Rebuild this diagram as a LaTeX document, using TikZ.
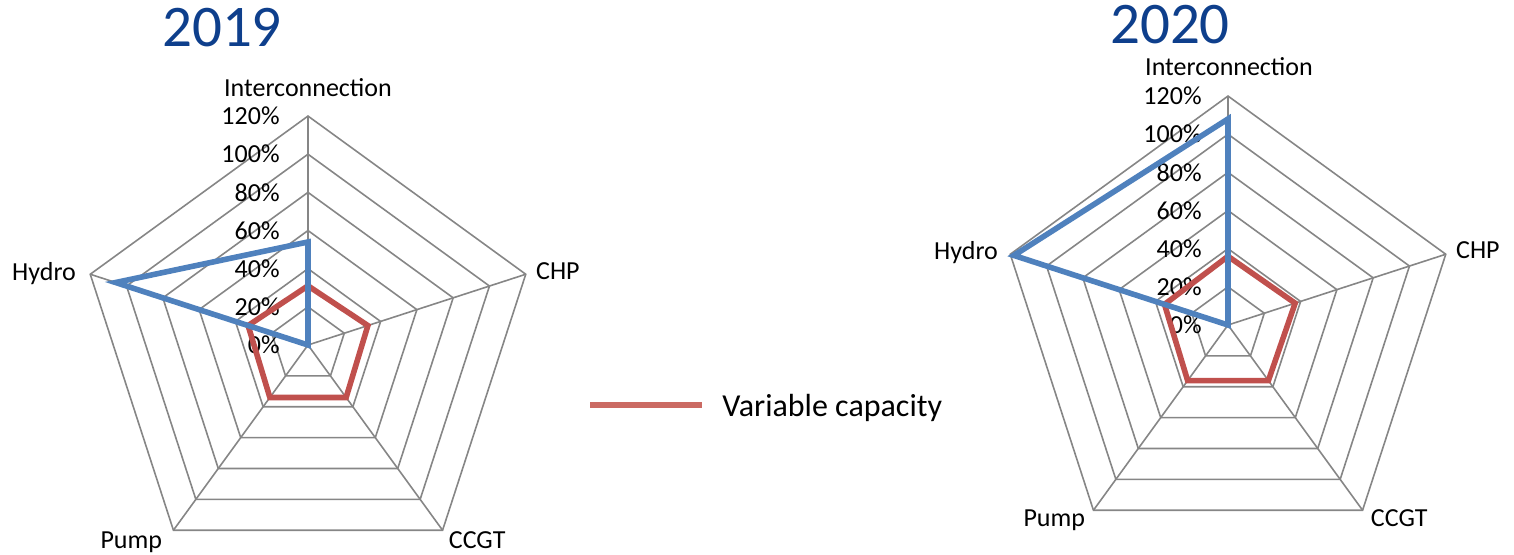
\documentclass[tikz,border=0pt]{standalone}
\usepackage{fontspec}
\setmainfont{Carlito}
\usetikzlibrary{calc}

\definecolor{gridgrey}{HTML}{868686}
\definecolor{seriesblue}{HTML}{4F81BD}
\definecolor{seriesred}{HTML}{C0504D}
\definecolor{legendred}{HTML}{CB6A63}
\definecolor{titleblue}{HTML}{0E3F8C}

\tikzset{
  web/.style={draw=gridgrey, line width=0.8pt},
  blueline/.style={draw=seriesblue, line width=2.8pt},
  redline/.style={draw=seriesred, line width=2.8pt},
  ticklabel/.style={inner sep=0pt, anchor=east, font=\fontsize{13}{15}\selectfont},
  catlabel/.style={inner sep=0pt, font=\fontsize{13}{15}\selectfont},
  yearlabel/.style={inner sep=0pt, anchor=base, text=titleblue, font=\fontsize{29.5}{33}\selectfont}
}

\begin{document}
\begin{tikzpicture}[x=0.5pt,y=0.5pt]
\useasboundingbox (0,0) rectangle (1514,554);

% titles
\node[yearlabel] (year2019) at (222,508) {2019};
\node[yearlabel] (year2020) at (1170,511) {2020};

% 2019 chart, 1 unit = 1%
\begin{scope}[shift={(308,209)}, x=0.954pt, y=0.954pt, name prefix=L-]
\foreach \r in {20,40,...,120} % edit here for the rings
\draw[web] (90:\r) -- (18:\r) -- (-54:\r) -- (-126:\r) -- (162:\r) -- cycle;
\foreach \a in {90,18,-54,-126,162} % edit here for the spokes
\draw[web] (0,0) -- (\a:120);
\foreach \r in {0,20,...,120} % edit here for the numbers
\node[ticklabel, xshift=-14pt] (tick\r) at (0,\r) {\r\%};
\node[catlabel, anchor=base, yshift=10pt] (inter) at (90:120) {Interconnection};
\node[catlabel, anchor=base west, xshift=5pt, yshift=-2.5pt] (chp) at (18:120) {CHP};
\node[catlabel, anchor=base west, xshift=3pt, yshift=-9pt] (ccgt) at (-54:120) {CCGT};
\node[catlabel, anchor=base east, xshift=-5.5pt, yshift=-9pt] (pump) at (-126:120) {Pump};
\node[catlabel, anchor=base east, xshift=-7pt, yshift=-3pt] (hydro) at (162:120) {Hydro};
\draw[redline] (90:31) -- (18:33) -- (-54:34) -- (-126:34) -- (162:33) -- cycle;
\draw[blueline] (90:54) -- (0,0) -- (162:106) -- cycle;
\end{scope}

% 2020 chart
\begin{scope}[shift={(1228,229)}, x=0.954pt, y=0.954pt, name prefix=R-]
\foreach \r in {20,40,...,120}
\draw[web] (90:\r) -- (18:\r) -- (-54:\r) -- (-126:\r) -- (162:\r) -- cycle;
\foreach \a in {90,18,-54,-126,162}
\draw[web] (0,0) -- (\a:120);
\foreach \r in {0,20,...,120}
\node[ticklabel, xshift=-13pt] (tick\r) at (0,\r) {\r\%};
\node[catlabel, anchor=base, xshift=0.5pt, yshift=10.5pt] (inter) at (90:120) {Interconnection};
\node[catlabel, anchor=base west, xshift=5pt, yshift=-2pt] (chp) at (18:120) {CHP};
\node[catlabel, anchor=base west, xshift=4pt, yshift=-8pt] (ccgt) at (-54:120) {CCGT};
\node[catlabel, anchor=base east, xshift=-4pt, yshift=-8pt] (pump) at (-126:120) {Pump};
\node[catlabel, anchor=base east, xshift=-6pt, yshift=-2.5pt] (hydro) at (162:120) {Hydro};
\draw[redline] (90:36) -- (18:37) -- (-54:36) -- (-126:36) -- (162:35) -- cycle;
\draw[blueline] (90:108) -- (0,0) -- (162:118) -- cycle;
\end{scope}

% legend
\coordinate (legstart) at (590,149);
\coordinate (legend) at (702,149);
\draw[draw=legendred, line width=2.8pt] (legstart) -- (legend);
\node[inner sep=0pt, anchor=base west, font=\fontsize{16}{19}\selectfont] (legtext) at (722,138) {Variable capacity};

\end{tikzpicture}
\end{document}
